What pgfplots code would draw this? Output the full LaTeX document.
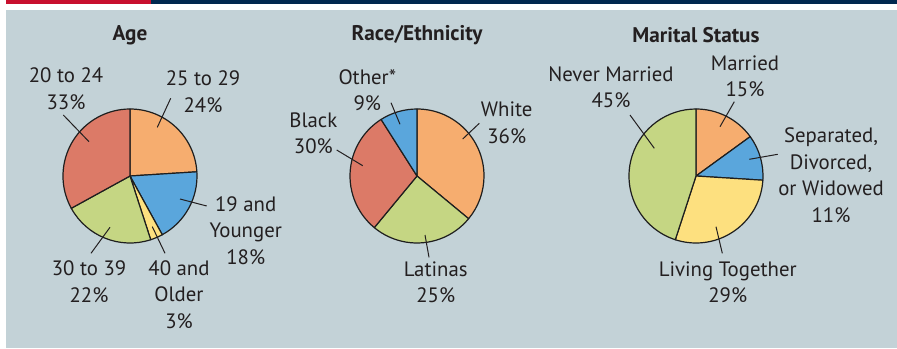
\documentclass[border=0pt]{standalone}
\usepackage{pgfplots}
\pgfplotsset{compat=1.18}
\usepackage{pgfplotstable}
\usepackage{fontspec}
\setmainfont{PT Sans}
\definecolor{panel}{HTML}{C3D2D7}
\definecolor{barred}{HTML}{C8102E}
\definecolor{barnavy}{HTML}{00284F}
\definecolor{cOrange}{HTML}{F6AD6F}
\definecolor{cBlue}{HTML}{5AA6DC}
\definecolor{cRed}{HTML}{DC7A67}
\definecolor{cGreen}{HTML}{C5D683}
\definecolor{cYellow}{HTML}{FDE07F}
\definecolor{txt}{HTML}{231F20}
\definecolor{pieline}{HTML}{1E1E1E}

% Age: 25-29, 19 and younger, 40 and older, 30-39, 20-24
\pgfplotstableread{
pct col
24 cOrange
18 cBlue
3  cYellow
22 cGreen
33 cRed
}\agetable
% Race: White, Latinas, Black, Other
\pgfplotstableread{
pct col
36 cOrange
25 cGreen
30 cRed
9  cBlue
}\racetable
% Marital: Married, Separated, Living together, Never married
\pgfplotstableread{
pct col
15 cOrange
11 cBlue
29 cYellow
45 cGreen
}\maritaltable

\newcommand\piewedges[3]{%
  \pgfplotstablegetrowsof{#1}%
  \pgfmathtruncatemacro\nrows{\pgfplotsretval-1}%
  \def\startang{90}%
  \pgfplotsforeachungrouped \i in {0,...,\nrows}{%
    \pgfplotstablegetelem{\i}{pct}\of{#1}%
    \let\thispct\pgfplotsretval
    \pgfmathsetmacro\endang{\startang-3.6*\thispct}%
    \pgfplotstablegetelem{\i}{col}\of{#1}%
    \edef\temp{\noexpand\filldraw[fill=\pgfplotsretval, draw=pieline, line width=0.6pt, line join=round]
      (axis cs:#2,#3) -- ++(\startang:33.5pt) arc[start angle=\startang, end angle=\endang, radius=33.5pt] -- cycle;}%
    \temp
    \let\startang\endang
  }%
}

\begin{document}
\begin{tikzpicture}
\begin{axis}[scale only axis, width=448.5pt, height=174pt,
  xmin=0, xmax=897, ymin=0, ymax=348, y dir=reverse, hide axis, clip=false]
\fill[white] (axis cs:0,0) rectangle (axis cs:897,348);
\fill[barred] (axis cs:6,0) rectangle (axis cs:151,4);
\fill[barnavy] (axis cs:151,0) rectangle (axis cs:897,4);
\fill[panel] (axis cs:6,9.5) rectangle (axis cs:897,348);

\piewedges{\agetable}{130}{176}
\piewedges{\racetable}{417}{176}
\piewedges{\maritaltable}{696}{176}

\tikzset{lbl/.style={align=center, text=txt, font=\fontsize{10.4}{13.25}\selectfont, inner sep=0pt},
         ttl/.style={text=txt, font=\fontsize{10.6}{12}\selectfont\bfseries, inner sep=0pt},
         ldr/.style={draw=txt, line width=0.5pt}}

% titles
\node[ttl] at (axis cs:130,35) {Age};
\node[ttl] at (axis cs:417,35) {Race/Ethnicity};
\node[ttl] at (axis cs:696,35) {Marital Status};

% Age labels
\node[lbl] at (axis cs:66,88.5) {20 to 24\\33\%};
\node[lbl] at (axis cs:203,91.7) {25 to 29\\24\%};
\node[lbl] at (axis cs:245.7,230.5) {19 and\\Younger\\18\%};
\node[lbl] at (axis cs:89,281.7) {30 to 39\\22\%};
\node[lbl] at (axis cs:179,294.7) {40 and\\Older\\3\%};
\draw[ldr] (axis cs:170.7,98.3) -- (axis cs:157.3,127.3);
\draw[ldr] (axis cs:63.3,115) -- (axis cs:89,141.7);
\draw[ldr] (axis cs:180,199) -- (axis cs:206.7,206);
\draw[ldr] (axis cs:152.3,226.7) -- (axis cs:165,253.3);
\draw[ldr] (axis cs:110,227.3) -- (axis cs:91,253.3);

% Race labels
\node[lbl] at (axis cs:367.3,90) {Other*\\9\%};
\node[lbl] at (axis cs:313.3,133.3) {Black\\30\%};
\node[lbl] at (axis cs:506.7,122.7) {White\\36\%};
\node[lbl] at (axis cs:435.7,282.2) {Latinas\\25\%};
\draw[ldr] (axis cs:391,102.7) -- (axis cs:400,124.3);
\draw[ldr] (axis cs:336.7,150) -- (axis cs:362.7,165.7);
\draw[ldr] (axis cs:479.3,123.3) -- (axis cs:462.7,139);
\draw[ldr] (axis cs:425,235) -- (axis cs:429,257.3);

% Marital labels
\node[lbl] at (axis cs:611,87.3) {Never Married\\45\%};
\node[lbl] at (axis cs:745,76.3) {Married\\15\%};
\node[lbl] at (axis cs:831,175) {Separated,\\Divorced,\\or Widowed\\11\%};
\node[lbl] at (axis cs:727.7,282.2) {Living Together\\29\%};
\draw[ldr] (axis cs:630,115) -- (axis cs:654.3,148.3);
\draw[ldr] (axis cs:734.3,101.7) -- (axis cs:720,126.7);
\draw[ldr] (axis cs:777.7,154.3) -- (axis cs:749.3,159.3);
\draw[ldr] (axis cs:716,226.7) -- (axis cs:722.3,253.3);
\end{axis}
\end{tikzpicture}
\end{document}
